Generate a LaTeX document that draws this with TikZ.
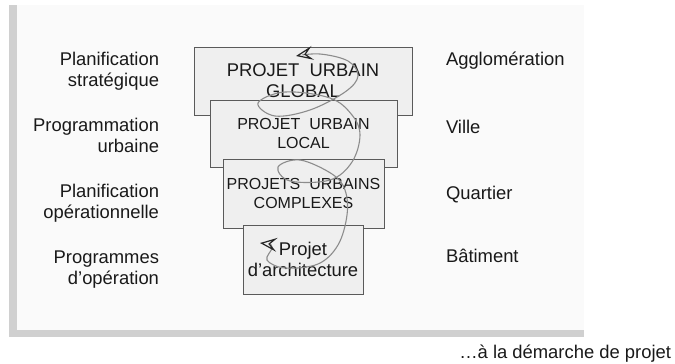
\documentclass[tikz,border=0pt]{standalone}
\usepackage{fontspec}
\setmainfont{Liberation Sans}
\usetikzlibrary{arrows.meta}

\definecolor{shadowgray}{HTML}{D0D0D0}
\definecolor{panelbg}{HTML}{FAFAFA}
\definecolor{boxfill}{HTML}{EFEFEF}
\definecolor{boxline}{HTML}{5A5A5A}
\definecolor{spiralgray}{HTML}{8C8C8C}

\begin{document}
\begin{tikzpicture}[x=1pt, y=-1pt,
    every node/.style={inner sep=0pt, outer sep=0pt, text=black!90},
    box/.style={draw=boxline, fill=boxfill, line width=0.8pt, align=center},
    big/.style={font=\fontsize{18.4}{21}\selectfont},
    small/.style={font=\fontsize{16}{19.5}\selectfont},
    level/.style={big, anchor=base east, align=right},
    scalelbl/.style={big, anchor=base west},
    spiral/.style={draw=spiralgray, line width=1.1pt,
        >={Stealth[open, length=17pt, width=14pt, inset=7pt, line width=1.2pt, color=black!85]}, <->}]
    \useasboundingbox (0,0) rectangle (675,364);

    % panel
    \fill[shadowgray] (9,5) rectangle (584,337);
    \fill[panelbg] (17,5) rectangle (584,330);

    % nested boxes
    \node [box, big, minimum width=218pt, minimum height=68pt] (global) at (303,81) {PROJET~~URBAIN\\GLOBAL};
    \node [box, small, minimum width=187pt, minimum height=67pt] (local) at (303.5,133.5) {PROJET~~URBAIN\\LOCAL};
    \node [box, small, minimum width=161pt, minimum height=69pt] (complexes) at (303.5,193.5) {PROJETS~~URBAINS\\COMPLEXES};
    \node [box, big, minimum width=120pt, minimum height=69pt] (archi) at (303,259.5) {Projet\\d'architecture};

    % planning levels (base = last line)
    \node [level] (strat) at (159,86) {Planification\\stratégique};
    \node [level] (progu) at (159,152) {Programmation\\urbaine};
    \node [level] (operat) at (159,218) {Planification\\opérationnelle};
    \node [level] (progo) at (159,284) {Programmes\\d'opération};

    % territorial scales
    \node [scalelbl] (agglo) at (446,65) {Agglomération};
    \node [scalelbl] (ville) at (446,133) {Ville};
    \node [scalelbl] (quartier) at (446,199) {Quartier};
    \node [scalelbl] (batiment) at (446,262) {Bâtiment};

    % spiral
    \draw [spiral] plot [smooth, tension=0.6] coordinates {
        (260,243) (272,247) (267,260) (285,268) (318,264) (338,245)
        (347,215) (345,190) (332,174) (300,160) (278,167) (290,181)
        (330,180) (352,162) (360,135) (352,115) (330,98) (285,92)
        (258,103) (275,116) (310,110) (345,92) (358,76) (348,61)
        (320,54) (296,56)};

    \node [big, anchor=base east] (caption) at (671,358) {…à la démarche de projet};
\end{tikzpicture}
\end{document}
